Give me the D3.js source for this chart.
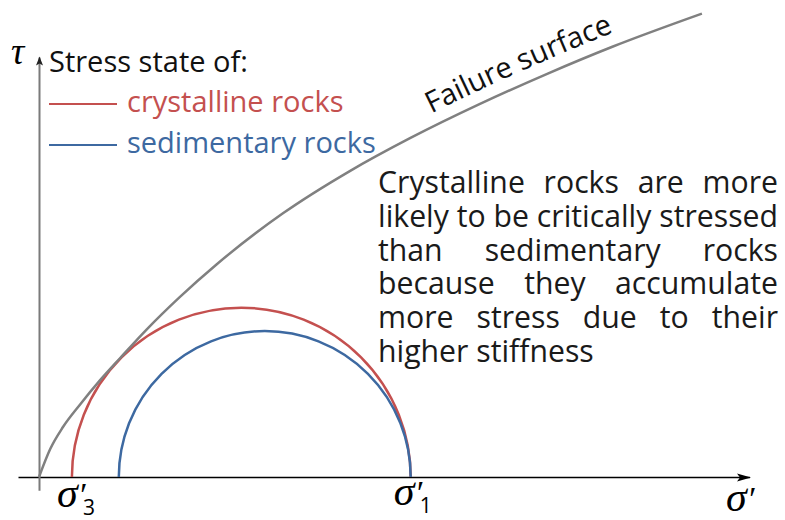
<!DOCTYPE html>
<html>
<head>
<meta charset="utf-8">
<script src="https://cdn.jsdelivr.net/npm/d3@7"></script>
<style>
  body { margin: 0; background: #fff; }
  svg { display: block; }
  text { font-family: "Open Sans", Lato, sans-serif; }
  .math { font-family: "Liberation Serif", "DejaVu Serif", serif; font-style: italic; }
</style>
</head>
<body>
<div id="chart"></div>
<script>
// failure envelope (sigma', tau)
var failureSigma = [0, 1.6, 3.4, 5.9, 8.7, 11.6, 15.4, 20.1, 25.4, 34.9, 44.4, 53.0, 63.0, 72.6, 82.0, 94.7];
var failureTau   = [0, 4.0, 7.1, 10.4, 13.8, 17.0, 21.1, 25.7, 30.4, 37.7, 43.7, 48.4, 53.3, 57.6, 61.5, 66.2];

// Mohr circles
var rockTypes = ["crystalline rocks", "sedimentary rocks"];
var sigma3 = [4.7, 11.4];
var sigma1 = [53.1, 53.1];

var legendTitle = "Stress state of:";
var curveLabel = "Failure surface";
var noteLines = [
  "Crystalline rocks are more",
  "likely to be critically stressed",
  "than sedimentary rocks",
  "because they accumulate",
  "more stress due to their",
  "higher stiffness"
];

var W = 785, H = 520;

var svg = d3.select("#chart").append("svg")
  .attr("width", W)
  .attr("height", H);

var x = d3.scaleLinear().domain([0, 100]).range([39, 739]);
var y = d3.scaleLinear().domain([0, 60]).range([477, 57]);

var color = d3.scaleOrdinal().domain(rockTypes).range(["#c4504f", "#3d69a1"]);

// scale a text's font size so it spans the given width
function fitWidth(sel, target) {
  var w = sel.node().getComputedTextLength();
  var fs = +sel.attr("font-size");
  sel.attr("font-size", fs * target / w);
  return fs * target / w;
}

var defs = svg.append("defs");
defs.append("marker")
  .attr("id", "arrX")
  .attr("markerUnits", "userSpaceOnUse")
  .attr("markerWidth", 16).attr("markerHeight", 12)
  .attr("refX", 13).attr("refY", 5)
  .attr("orient", "auto")
  .append("path")
  .attr("d", "M0,1 L14,5 L0,9 L3,5 Z")
  .attr("fill", "#000");
defs.append("marker")
  .attr("id", "arrY")
  .attr("markerUnits", "userSpaceOnUse")
  .attr("markerWidth", 12).attr("markerHeight", 10)
  .attr("refX", 8).attr("refY", 4)
  .attr("orient", "auto")
  .append("path")
  .attr("d", "M0,0.5 L9,4 L0,7.5 L2,4 Z")
  .attr("fill", "#222");

// axes (no ticks, just arrows)
var xAxisScale = x.copy().domain([-3, 101.5]).range([x(-3), x(101.5)]);
var yAxisScale = y.copy().domain([-1.9, 60]).range([y(-1.9), y(60)]);

var xAxis = svg.append("g")
  .attr("transform", "translate(0," + y(0) + ")")
  .call(d3.axisBottom(xAxisScale).tickValues([]).tickSizeOuter(0));
xAxis.select(".domain")
  .attr("stroke", "#000")
  .attr("stroke-width", 1.6)
  .attr("marker-end", "url(#arrX)");

var yAxis = svg.append("g")
  .attr("transform", "translate(" + x(0) + ",0)")
  .call(d3.axisLeft(yAxisScale).tickValues([]).tickSizeOuter(0));
yAxis.select(".domain")
  .attr("stroke", "#7a7a7a")
  .attr("stroke-width", 2)
  .attr("marker-end", "url(#arrY)");

// Mohr circles
var circles = rockTypes.map(function(name, i) {
  return { name: name, s3: sigma3[i], s1: sigma1[i] };
});

svg.append("g").selectAll("path")
  .data(circles)
  .enter()
  .append("path")
  .attr("d", function(d) {
    var r = (d.s1 - d.s3) / 2;
    var c = (d.s1 + d.s3) / 2;
    var rx = x(c + r) - x(c);
    var ry = y(0) - y(r);
    return "M" + x(d.s3) + "," + y(0) + " A" + rx + "," + ry + " 0 0 1 " + x(d.s1) + "," + y(0);
  })
  .attr("fill", "none")
  .attr("stroke", function(d) { return color(d.name); })
  .attr("stroke-width", 2.5);

// failure envelope
var envelope = failureSigma.map(function(s, i) { return [s, failureTau[i]]; });
var line = d3.line()
  .x(function(d) { return x(d[0]); })
  .y(function(d) { return y(d[1]); })
  .curve(d3.curveMonotoneX);

svg.append("path")
  .datum(envelope)
  .attr("d", line)
  .attr("fill", "none")
  .attr("stroke", "#808080")
  .attr("stroke-width", 2.5);

// label riding on the curve, shifted up a bit
var labelLine = d3.line()
  .x(function(d) { return x(d[0]); })
  .y(function(d) { return y(d[1]) - 14; })
  .curve(d3.curveMonotoneX);
var labelPath = defs.append("path")
  .attr("id", "labelPath")
  .attr("d", labelLine(envelope));
var node = labelPath.node();
var total = node.getTotalLength();
var startAt = 0;
for (var L = 0; L < total; L += 1) {
  if (node.getPointAtLength(L).x >= 431) { startAt = L; break; }
}
var curveText = svg.append("text")
  .attr("font-size", 26)
  .attr("fill", "#111");
curveText.append("textPath")
  .attr("href", "#labelPath")
  .attr("startOffset", startAt)
  .text(curveLabel);
fitWidth(curveText, 200);

// legend
var title = svg.append("text")
  .attr("x", 49).attr("y", 72)
  .attr("font-size", 26)
  .attr("fill", "#111")
  .text(legendTitle);
var fs = fitWidth(title, 199);

var legend = svg.append("g").selectAll("g")
  .data(rockTypes)
  .enter()
  .append("g")
  .attr("transform", function(d, i) { return "translate(49," + (104 + i * 41) + ")"; });
legend.append("line")
  .attr("x1", 0).attr("x2", 68)
  .attr("stroke", function(d) { return color(d); })
  .attr("stroke-width", 2);
legend.append("text")
  .attr("x", 78).attr("y", 8)
  .attr("font-size", fs)
  .attr("fill", function(d) { return color(d); })
  .text(function(d) { return d; });

// justified note
var noteLeft = 378, noteRight = 778;
var note = svg.append("g").attr("fill", "#1a1a1a");
var probe = note.append("text").attr("font-size", 26).text(noteLines[1]);
var noteSize = fitWidth(probe, noteRight - noteLeft);
probe.remove();
note.attr("font-size", noteSize);
noteLines.forEach(function(txt, i) {
  var words = txt.split(" ");
  var t = note.append("text").attr("y", 193 + i * 33.8);
  var spans = words.map(function(w) { return t.append("tspan").text(w); });
  var widths = spans.map(function(s) { return s.node().getComputedTextLength(); });
  var sum = d3.sum(widths);
  var gap = (i === noteLines.length - 1 || words.length < 2) ? noteSize * 0.26 : (noteRight - noteLeft - sum) / (words.length - 1);
  var cx = noteLeft;
  spans.forEach(function(s, j) {
    s.attr("x", cx);
    cx += widths[j] + gap;
  });
});

// math labels
svg.append("text").attr("class", "math")
  .attr("x", 11).attr("y", 64)
  .attr("font-size", 37)
  .text("\u03c4");

function sigmaLabel(xp, yp, sub) {
  var g = svg.append("g");
  g.append("text").attr("class", "math")
    .attr("x", xp).attr("y", yp)
    .attr("font-size", 42)
    .text("\u03c3");
  g.append("text").attr("class", "math")
    .attr("x", xp + 21).attr("y", yp - 1)
    .attr("font-size", 34)
    .text("\u2032");
  if (sub) {
    g.append("text")
      .attr("x", xp + 26).attr("y", yp + 8)
      .attr("font-family", "'Liberation Serif', serif")
      .attr("font-size", 21)
      .text(sub);
  }
}
sigmaLabel(x(sigma3[0]) - 15, 507, "3");
sigmaLabel(x(sigma1[0]) - 17, 505, "1");
sigmaLabel(726, 511, null);
</script>
</body>
</html>
